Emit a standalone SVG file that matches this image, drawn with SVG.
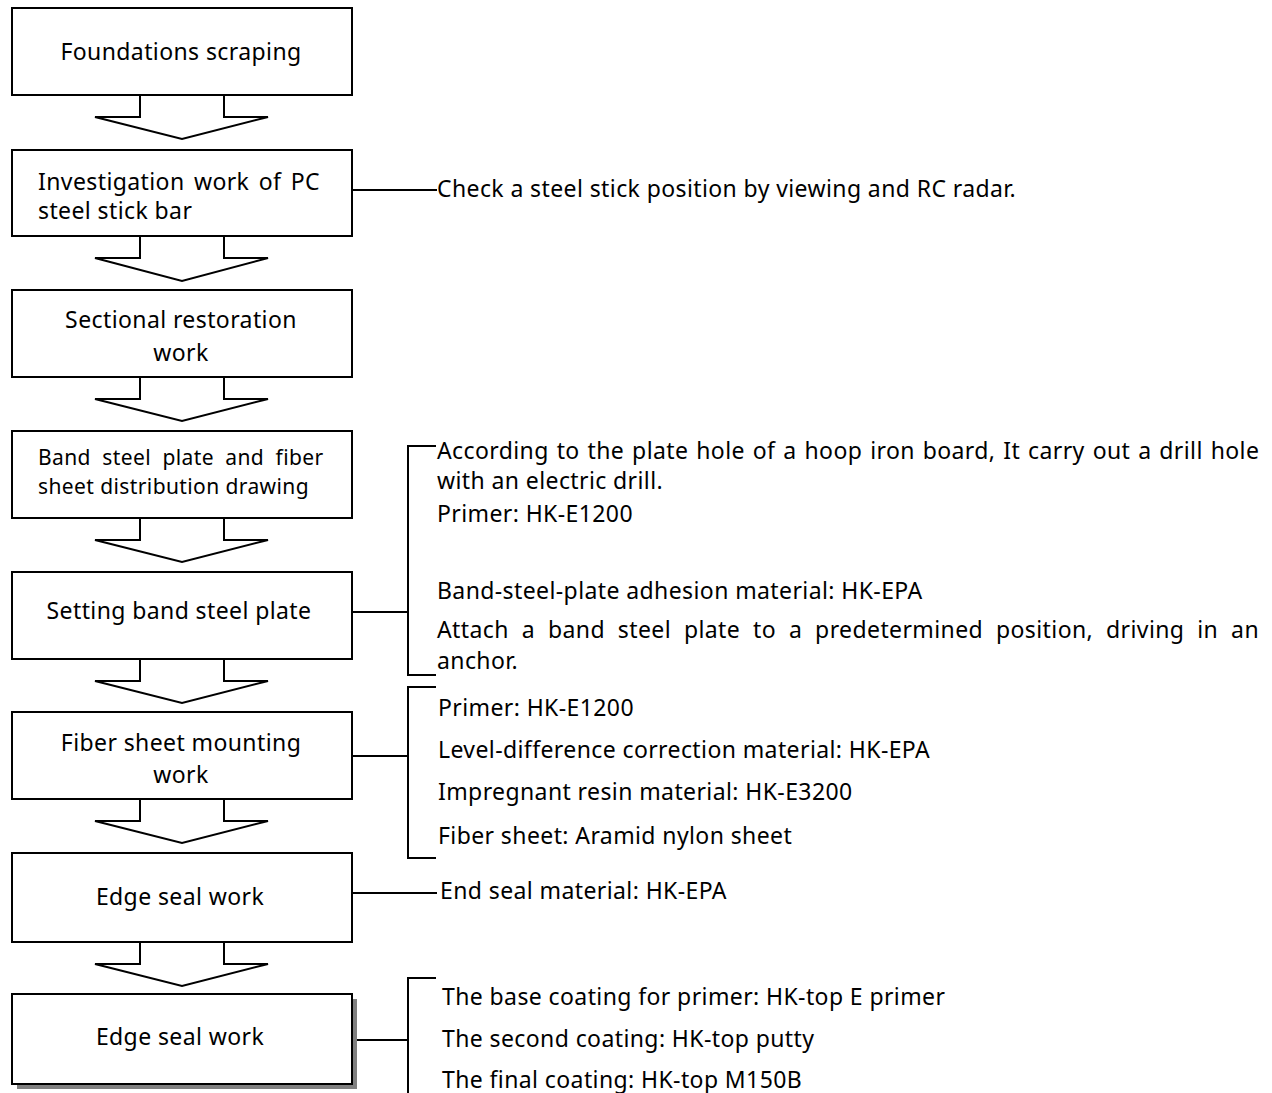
<svg xmlns="http://www.w3.org/2000/svg" width="1272" height="1093" viewBox="0 0 1272 1093">
<style>
.box{fill:#fff;stroke:#000;stroke-width:2}
.shadow{fill:#808080;stroke:none}
.arr{fill:#fff;stroke:#000;stroke-width:2;stroke-linejoin:miter}
.ln{fill:none;stroke:#000;stroke-width:2}
text{font-family:"Noto Sans","Open Sans","Liberation Sans",sans-serif;font-size:23px;letter-spacing:0.4px;fill:#000}
.c{text-anchor:middle}
.s{font-size:21px;letter-spacing:0.4px}
</style>
<rect width="1272" height="1093" fill="#fff"/>
<g id="connectors">
<polyline class="arr" points="140,95 140,117 95,117 182,139 268,117 224,117 224,95"/>
<polyline class="arr" points="140,236 140,258 95,258 182,281 268,258 224,258 224,236"/>
<polyline class="arr" points="140,377 140,399 95,399 182,421 268,399 224,399 224,377"/>
<polyline class="arr" points="140,518 140,540 95,540 182,562 268,540 224,540 224,518"/>
<polyline class="arr" points="140,659 140,681 95,681 182,703 268,681 224,681 224,659"/>
<polyline class="arr" points="140,799 140,821 95,821 182,843 268,821 224,821 224,799"/>
<polyline class="arr" points="140,942 140,964 95,964 182,986 268,964 224,964 224,942"/>
<line class="ln" x1="352" y1="190" x2="437" y2="190"/>
<line class="ln" x1="352" y1="612" x2="408" y2="612"/>
<polyline class="ln" points="436,446 408,446 408,675 436,675"/>
<line class="ln" x1="352" y1="756" x2="408" y2="756"/>
<polyline class="ln" points="436,687 408,687 408,858 436,858"/>
<line class="ln" x1="352" y1="893" x2="437" y2="893"/>
<line class="ln" x1="357" y1="1040" x2="408" y2="1040"/>
<polyline class="ln" points="436,978 408,978 408,1093"/>
</g>
<g id="n1"><rect class="box" x="12" y="8" width="340" height="87"/><text class="c" x="181" y="60">Foundations scraping</text></g>
<g id="n2"><rect class="box" x="12" y="150" width="340" height="86"/><text x="38" y="190" word-spacing="3">Investigation work of PC</text><text x="38" y="219">steel stick bar</text></g>
<g id="n3"><rect class="box" x="12" y="290" width="340" height="87"/><text class="c" x="181" y="328">Sectional restoration</text><text class="c" x="181" y="361">work</text></g>
<g id="n4"><rect class="box" x="12" y="431" width="340" height="87"/><text class="s" x="38" y="465" word-spacing="5.5">Band steel plate and fiber</text><text class="s" x="38" y="494">sheet distribution drawing</text></g>
<g id="n5"><rect class="box" x="12" y="572" width="340" height="87"/><text class="c" x="179" y="619">Setting band steel plate</text></g>
<g id="n6"><rect class="box" x="12" y="712" width="340" height="87"/><text class="c" x="181" y="751">Fiber sheet mounting</text><text class="c" x="181" y="783">work</text></g>
<g id="n7"><rect class="box" x="12" y="853" width="340" height="89"/><text class="c" x="180" y="905">Edge seal work</text></g>
<g id="n8"><rect class="shadow" x="17" y="999" width="340" height="90"/><rect class="box" x="12" y="994" width="340" height="90"/><text class="c" x="180" y="1045">Edge seal work</text></g>
<g id="notes">
<text x="437" y="197">Check a steel stick position by viewing and RC radar.</text>
<text x="437" y="459" word-spacing="1.5">According to the plate hole of a hoop iron board, It carry out a drill hole</text>
<text x="437" y="489">with an electric drill.</text>
<text x="437" y="522">Primer: HK-E1200</text>
<text x="437" y="599">Band-steel-plate adhesion material: HK-EPA</text>
<text x="437" y="638" word-spacing="6.5">Attach a band steel plate to a predetermined position, driving in an</text>
<text x="437" y="669">anchor.</text>
<text x="438" y="716">Primer: HK-E1200</text>
<text x="438" y="758">Level-difference correction material: HK-EPA</text>
<text x="438" y="800">Impregnant resin material: HK-E3200</text>
<text x="438" y="844">Fiber sheet: Aramid nylon sheet</text>
<text x="440" y="899">End seal material: HK-EPA</text>
<text x="442" y="1005">The base coating for primer: HK-top E primer</text>
<text x="442" y="1047">The second coating: HK-top putty</text>
<text x="442" y="1088">The final coating: HK-top M150B</text>
</g>
</svg>
